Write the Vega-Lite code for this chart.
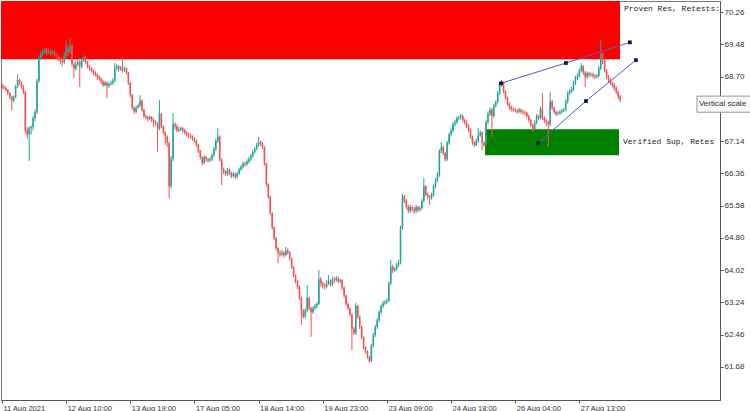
{
"$schema":"https://vega.github.io/schema/vega-lite/v6.json",
"width":719,"height":399,"autosize":"none",
"padding":{"left":1,"top":1,"right":30,"bottom":11},
"background":"white",
"config":{"view":{"stroke":"#777","strokeWidth":1},"font":"Liberation Sans","axis":{"labelOverlap":false,"labelFlush":false,"labelBound":false}},
"datasets":{
"candles":[
{"i":0,"o":68.50,"h":68.55,"l":68.40,"c":68.45},
{"i":1,"o":68.45,"h":68.50,"l":68.38,"c":68.42},
{"i":2,"o":68.42,"h":68.46,"l":68.33,"c":68.38},
{"i":3,"o":68.38,"h":68.40,"l":68.25,"c":68.30},
{"i":4,"o":68.30,"h":68.33,"l":68.15,"c":68.22},
{"i":5,"o":68.22,"h":68.25,"l":67.89,"c":68.12},
{"i":6,"o":68.12,"h":68.24,"l":68.08,"c":68.20},
{"i":7,"o":68.20,"h":68.50,"l":68.18,"c":68.45},
{"i":8,"o":68.45,"h":68.76,"l":68.42,"c":68.62},
{"i":9,"o":68.62,"h":68.66,"l":68.50,"c":68.55},
{"i":10,"o":68.55,"h":68.58,"l":68.40,"c":68.45},
{"i":11,"o":68.45,"h":68.50,"l":68.28,"c":68.33},
{"i":12,"o":68.33,"h":68.36,"l":67.32,"c":67.40},
{"i":13,"o":67.40,"h":67.48,"l":67.20,"c":67.30},
{"i":14,"o":67.30,"h":67.50,"l":66.66,"c":67.45},
{"i":15,"o":67.45,"h":67.52,"l":67.30,"c":67.48},
{"i":16,"o":67.48,"h":67.75,"l":67.40,"c":67.70},
{"i":17,"o":67.70,"h":67.90,"l":67.62,"c":67.85},
{"i":18,"o":67.85,"h":68.65,"l":67.80,"c":68.60},
{"i":19,"o":68.60,"h":69.22,"l":68.55,"c":69.15},
{"i":20,"o":69.15,"h":69.32,"l":69.10,"c":69.25},
{"i":21,"o":69.25,"h":69.36,"l":69.20,"c":69.30},
{"i":22,"o":69.30,"h":69.40,"l":69.25,"c":69.35},
{"i":23,"o":69.35,"h":69.40,"l":69.22,"c":69.28},
{"i":24,"o":69.28,"h":69.38,"l":69.24,"c":69.32},
{"i":25,"o":69.32,"h":69.36,"l":69.20,"c":69.26},
{"i":26,"o":69.26,"h":69.35,"l":69.22,"c":69.30},
{"i":27,"o":69.30,"h":69.34,"l":69.18,"c":69.24},
{"i":28,"o":69.24,"h":69.28,"l":69.14,"c":69.20},
{"i":29,"o":69.20,"h":69.24,"l":69.08,"c":69.15},
{"i":30,"o":69.15,"h":69.18,"l":69.00,"c":69.08},
{"i":31,"o":69.08,"h":69.12,"l":68.95,"c":69.05},
{"i":32,"o":69.05,"h":69.30,"l":69.00,"c":69.20},
{"i":33,"o":69.20,"h":69.58,"l":69.15,"c":69.40},
{"i":34,"o":69.40,"h":69.45,"l":69.20,"c":69.30},
{"i":35,"o":69.30,"h":69.62,"l":69.25,"c":69.45},
{"i":36,"o":69.45,"h":69.48,"l":68.95,"c":69.00},
{"i":37,"o":69.00,"h":69.05,"l":68.67,"c":68.90},
{"i":38,"o":68.90,"h":69.08,"l":68.85,"c":69.00},
{"i":39,"o":69.00,"h":69.12,"l":68.95,"c":69.05},
{"i":40,"o":69.05,"h":69.10,"l":68.45,"c":68.95},
{"i":41,"o":68.95,"h":69.15,"l":68.90,"c":69.10},
{"i":42,"o":69.10,"h":69.22,"l":69.05,"c":69.18},
{"i":43,"o":69.18,"h":69.20,"l":69.00,"c":69.05},
{"i":44,"o":69.05,"h":69.08,"l":68.90,"c":68.95},
{"i":45,"o":68.95,"h":68.98,"l":68.85,"c":68.90},
{"i":46,"o":68.90,"h":68.93,"l":68.80,"c":68.85},
{"i":47,"o":68.85,"h":68.88,"l":68.74,"c":68.80},
{"i":48,"o":68.80,"h":68.83,"l":68.70,"c":68.75},
{"i":49,"o":68.75,"h":68.78,"l":68.62,"c":68.70},
{"i":50,"o":68.70,"h":68.74,"l":68.60,"c":68.65},
{"i":51,"o":68.65,"h":68.68,"l":68.52,"c":68.58},
{"i":52,"o":68.58,"h":68.62,"l":68.45,"c":68.50},
{"i":53,"o":68.50,"h":68.60,"l":68.46,"c":68.55},
{"i":54,"o":68.55,"h":68.58,"l":68.18,"c":68.48},
{"i":55,"o":68.48,"h":68.56,"l":68.42,"c":68.52},
{"i":56,"o":68.52,"h":68.60,"l":68.48,"c":68.55},
{"i":57,"o":68.55,"h":68.66,"l":68.50,"c":68.60},
{"i":58,"o":68.60,"h":69.03,"l":68.56,"c":68.90},
{"i":59,"o":68.90,"h":69.00,"l":68.85,"c":68.95},
{"i":60,"o":68.95,"h":68.98,"l":68.82,"c":68.88},
{"i":61,"o":68.88,"h":68.96,"l":68.84,"c":68.92},
{"i":62,"o":68.92,"h":69.17,"l":68.80,"c":68.86},
{"i":63,"o":68.86,"h":68.95,"l":68.82,"c":68.90},
{"i":64,"o":68.90,"h":68.92,"l":68.75,"c":68.80},
{"i":65,"o":68.80,"h":68.82,"l":68.50,"c":68.55},
{"i":66,"o":68.55,"h":68.58,"l":68.20,"c":68.25},
{"i":67,"o":68.25,"h":68.28,"l":67.90,"c":67.95},
{"i":68,"o":67.95,"h":67.98,"l":67.80,"c":67.85},
{"i":69,"o":67.85,"h":68.00,"l":67.82,"c":67.95},
{"i":70,"o":67.95,"h":68.05,"l":67.92,"c":68.00},
{"i":71,"o":68.00,"h":68.25,"l":67.96,"c":68.12},
{"i":72,"o":68.12,"h":68.15,"l":67.85,"c":67.90},
{"i":73,"o":67.90,"h":67.92,"l":67.70,"c":67.75},
{"i":74,"o":67.75,"h":67.78,"l":67.66,"c":67.72},
{"i":75,"o":67.72,"h":67.75,"l":67.62,"c":67.68},
{"i":76,"o":67.68,"h":67.76,"l":67.64,"c":67.72},
{"i":77,"o":67.72,"h":67.75,"l":67.60,"c":67.65},
{"i":78,"o":67.65,"h":67.68,"l":67.48,"c":67.60},
{"i":79,"o":67.60,"h":67.64,"l":67.52,"c":67.58},
{"i":80,"o":67.58,"h":67.60,"l":66.88,"c":67.45},
{"i":81,"o":67.45,"h":68.13,"l":67.40,"c":67.80},
{"i":82,"o":67.80,"h":67.82,"l":67.45,"c":67.50},
{"i":83,"o":67.50,"h":67.52,"l":67.30,"c":67.35},
{"i":84,"o":67.35,"h":67.38,"l":67.05,"c":67.25},
{"i":85,"o":67.25,"h":67.28,"l":67.00,"c":67.10},
{"i":86,"o":67.10,"h":67.12,"l":65.76,"c":66.05},
{"i":87,"o":66.05,"h":66.78,"l":66.00,"c":66.70},
{"i":88,"o":66.70,"h":67.82,"l":66.65,"c":67.55},
{"i":89,"o":67.55,"h":67.60,"l":67.42,"c":67.50},
{"i":90,"o":67.50,"h":67.55,"l":67.35,"c":67.40},
{"i":91,"o":67.40,"h":67.48,"l":67.36,"c":67.42},
{"i":92,"o":67.42,"h":67.50,"l":67.38,"c":67.45},
{"i":93,"o":67.45,"h":67.48,"l":67.34,"c":67.40},
{"i":94,"o":67.40,"h":67.44,"l":67.30,"c":67.35},
{"i":95,"o":67.35,"h":67.38,"l":67.25,"c":67.30},
{"i":96,"o":67.30,"h":67.34,"l":67.22,"c":67.28},
{"i":97,"o":67.28,"h":67.32,"l":67.20,"c":67.25},
{"i":98,"o":67.25,"h":67.28,"l":67.15,"c":67.20},
{"i":99,"o":67.20,"h":67.24,"l":67.10,"c":67.15},
{"i":100,"o":67.15,"h":67.18,"l":67.00,"c":67.05},
{"i":101,"o":67.05,"h":67.08,"l":66.85,"c":66.90},
{"i":102,"o":66.90,"h":66.93,"l":66.70,"c":66.75},
{"i":103,"o":66.75,"h":66.78,"l":66.55,"c":66.62},
{"i":104,"o":66.62,"h":66.80,"l":66.58,"c":66.75},
{"i":105,"o":66.75,"h":66.78,"l":66.64,"c":66.70},
{"i":106,"o":66.70,"h":66.74,"l":66.62,"c":66.68},
{"i":107,"o":66.68,"h":66.75,"l":66.63,"c":66.70},
{"i":108,"o":66.70,"h":66.85,"l":66.66,"c":66.80},
{"i":109,"o":66.80,"h":67.00,"l":66.76,"c":66.95},
{"i":110,"o":66.95,"h":67.20,"l":66.90,"c":67.15},
{"i":111,"o":67.15,"h":67.46,"l":67.10,"c":67.25},
{"i":112,"o":67.25,"h":67.28,"l":66.65,"c":66.70},
{"i":113,"o":66.70,"h":66.72,"l":66.08,"c":66.45},
{"i":114,"o":66.45,"h":66.50,"l":66.34,"c":66.40},
{"i":115,"o":66.40,"h":66.44,"l":66.30,"c":66.35},
{"i":116,"o":66.35,"h":66.50,"l":66.30,"c":66.45},
{"i":117,"o":66.45,"h":66.48,"l":66.32,"c":66.38},
{"i":118,"o":66.38,"h":66.40,"l":66.25,"c":66.30},
{"i":119,"o":66.30,"h":66.40,"l":66.26,"c":66.35},
{"i":120,"o":66.35,"h":66.38,"l":66.22,"c":66.28},
{"i":121,"o":66.28,"h":66.40,"l":66.24,"c":66.35},
{"i":122,"o":66.35,"h":66.50,"l":66.32,"c":66.45},
{"i":123,"o":66.45,"h":66.56,"l":66.42,"c":66.52},
{"i":124,"o":66.52,"h":66.65,"l":66.48,"c":66.60},
{"i":125,"o":66.60,"h":66.64,"l":66.52,"c":66.58},
{"i":126,"o":66.58,"h":66.70,"l":66.54,"c":66.65},
{"i":127,"o":66.65,"h":66.76,"l":66.60,"c":66.70},
{"i":128,"o":66.70,"h":66.83,"l":66.66,"c":66.78},
{"i":129,"o":66.78,"h":66.92,"l":66.74,"c":66.88},
{"i":130,"o":66.88,"h":67.00,"l":66.84,"c":66.95},
{"i":131,"o":66.95,"h":67.10,"l":66.92,"c":67.05},
{"i":132,"o":67.05,"h":67.24,"l":67.00,"c":67.12},
{"i":133,"o":67.12,"h":67.16,"l":67.02,"c":67.08},
{"i":134,"o":67.08,"h":67.12,"l":66.95,"c":67.00},
{"i":135,"o":67.00,"h":67.02,"l":66.55,"c":66.60},
{"i":136,"o":66.60,"h":66.62,"l":66.05,"c":66.10},
{"i":137,"o":66.10,"h":66.12,"l":65.75,"c":65.80},
{"i":138,"o":65.80,"h":65.82,"l":65.35,"c":65.40},
{"i":139,"o":65.40,"h":65.42,"l":65.00,"c":65.05},
{"i":140,"o":65.05,"h":65.08,"l":64.75,"c":64.80},
{"i":141,"o":64.80,"h":64.82,"l":64.50,"c":64.55},
{"i":142,"o":64.55,"h":64.58,"l":64.19,"c":64.44},
{"i":143,"o":64.44,"h":64.50,"l":64.34,"c":64.40},
{"i":144,"o":64.40,"h":64.52,"l":64.36,"c":64.45},
{"i":145,"o":64.45,"h":64.48,"l":64.32,"c":64.38},
{"i":146,"o":64.38,"h":64.58,"l":64.35,"c":64.50},
{"i":147,"o":64.50,"h":64.55,"l":64.40,"c":64.45},
{"i":148,"o":64.45,"h":64.48,"l":64.25,"c":64.30},
{"i":149,"o":64.30,"h":64.32,"l":64.05,"c":64.10},
{"i":150,"o":64.10,"h":64.12,"l":63.85,"c":63.90},
{"i":151,"o":63.90,"h":63.92,"l":63.70,"c":63.75},
{"i":152,"o":63.75,"h":63.78,"l":63.56,"c":63.62},
{"i":153,"o":63.62,"h":63.65,"l":63.30,"c":63.35},
{"i":154,"o":63.35,"h":63.38,"l":62.70,"c":63.05},
{"i":155,"o":63.05,"h":63.08,"l":62.85,"c":62.90},
{"i":156,"o":62.90,"h":63.10,"l":62.86,"c":63.05},
{"i":157,"o":63.05,"h":63.66,"l":63.00,"c":63.35},
{"i":158,"o":63.35,"h":63.38,"l":63.05,"c":63.10},
{"i":159,"o":63.10,"h":63.14,"l":62.41,"c":63.00},
{"i":160,"o":63.00,"h":63.15,"l":62.96,"c":63.10},
{"i":161,"o":63.10,"h":63.20,"l":63.05,"c":63.15},
{"i":162,"o":63.15,"h":63.25,"l":63.10,"c":63.20},
{"i":163,"o":63.20,"h":64.02,"l":63.18,"c":63.80},
{"i":164,"o":63.80,"h":63.85,"l":63.62,"c":63.70},
{"i":165,"o":63.70,"h":63.75,"l":63.58,"c":63.65},
{"i":166,"o":63.65,"h":63.70,"l":63.55,"c":63.62},
{"i":167,"o":63.62,"h":63.78,"l":63.58,"c":63.70},
{"i":168,"o":63.70,"h":63.90,"l":63.66,"c":63.75},
{"i":169,"o":63.75,"h":63.80,"l":63.62,"c":63.68},
{"i":170,"o":63.68,"h":63.86,"l":63.64,"c":63.80},
{"i":171,"o":63.80,"h":63.85,"l":63.72,"c":63.78},
{"i":172,"o":63.78,"h":63.88,"l":63.74,"c":63.82},
{"i":173,"o":63.82,"h":63.86,"l":63.70,"c":63.75},
{"i":174,"o":63.75,"h":63.82,"l":63.70,"c":63.78},
{"i":175,"o":63.78,"h":63.80,"l":63.55,"c":63.60},
{"i":176,"o":63.60,"h":63.62,"l":63.35,"c":63.40},
{"i":177,"o":63.40,"h":63.42,"l":63.15,"c":63.20},
{"i":178,"o":63.20,"h":63.24,"l":63.05,"c":63.10},
{"i":179,"o":63.10,"h":63.12,"l":62.90,"c":62.95},
{"i":180,"o":62.95,"h":62.98,"l":62.09,"c":62.60},
{"i":181,"o":62.60,"h":62.65,"l":62.45,"c":62.50},
{"i":182,"o":62.50,"h":63.23,"l":62.45,"c":63.15},
{"i":183,"o":63.15,"h":63.18,"l":62.85,"c":62.90},
{"i":184,"o":62.90,"h":62.92,"l":62.60,"c":62.65},
{"i":185,"o":62.65,"h":62.68,"l":62.35,"c":62.40},
{"i":186,"o":62.40,"h":62.42,"l":62.10,"c":62.15},
{"i":187,"o":62.15,"h":62.18,"l":62.00,"c":62.05},
{"i":188,"o":62.05,"h":62.08,"l":61.88,"c":61.92},
{"i":189,"o":61.92,"h":61.95,"l":61.78,"c":61.82},
{"i":190,"o":61.82,"h":62.24,"l":61.80,"c":62.20},
{"i":191,"o":62.20,"h":62.50,"l":62.15,"c":62.45},
{"i":192,"o":62.45,"h":62.70,"l":62.40,"c":62.65},
{"i":193,"o":62.65,"h":62.85,"l":62.60,"c":62.80},
{"i":194,"o":62.80,"h":63.05,"l":62.76,"c":63.00},
{"i":195,"o":63.00,"h":63.20,"l":62.95,"c":63.15},
{"i":196,"o":63.15,"h":63.28,"l":63.10,"c":63.22},
{"i":197,"o":63.22,"h":63.30,"l":63.18,"c":63.25},
{"i":198,"o":63.25,"h":63.34,"l":63.20,"c":63.28},
{"i":199,"o":63.28,"h":63.75,"l":63.25,"c":63.70},
{"i":200,"o":63.70,"h":64.27,"l":63.66,"c":64.10},
{"i":201,"o":64.10,"h":64.15,"l":63.95,"c":64.02},
{"i":202,"o":64.02,"h":64.10,"l":63.98,"c":64.05},
{"i":203,"o":64.05,"h":64.20,"l":64.00,"c":64.15},
{"i":204,"o":64.15,"h":64.26,"l":64.10,"c":64.20},
{"i":205,"o":64.20,"h":65.10,"l":64.16,"c":65.06},
{"i":206,"o":65.06,"h":65.87,"l":65.00,"c":65.80},
{"i":207,"o":65.80,"h":65.84,"l":65.64,"c":65.70},
{"i":208,"o":65.70,"h":65.74,"l":65.50,"c":65.55},
{"i":209,"o":65.55,"h":65.60,"l":65.40,"c":65.45},
{"i":210,"o":65.45,"h":65.60,"l":65.40,"c":65.55},
{"i":211,"o":65.55,"h":65.58,"l":65.44,"c":65.50},
{"i":212,"o":65.50,"h":65.55,"l":65.38,"c":65.45},
{"i":213,"o":65.45,"h":65.60,"l":65.40,"c":65.55},
{"i":214,"o":65.55,"h":65.58,"l":65.42,"c":65.48},
{"i":215,"o":65.48,"h":65.58,"l":65.44,"c":65.52},
{"i":216,"o":65.52,"h":65.75,"l":65.48,"c":65.70},
{"i":217,"o":65.70,"h":66.25,"l":65.66,"c":66.05},
{"i":218,"o":66.05,"h":66.08,"l":65.80,"c":65.85},
{"i":219,"o":65.85,"h":65.90,"l":65.74,"c":65.80},
{"i":220,"o":65.80,"h":65.84,"l":65.60,"c":65.78},
{"i":221,"o":65.78,"h":65.90,"l":65.72,"c":65.85},
{"i":222,"o":65.85,"h":66.10,"l":65.80,"c":66.05},
{"i":223,"o":66.05,"h":66.25,"l":66.00,"c":66.20},
{"i":224,"o":66.20,"h":66.38,"l":66.15,"c":66.32},
{"i":225,"o":66.32,"h":66.95,"l":66.28,"c":66.90},
{"i":226,"o":66.90,"h":67.12,"l":66.85,"c":67.00},
{"i":227,"o":67.00,"h":67.03,"l":66.80,"c":66.85},
{"i":228,"o":66.85,"h":66.88,"l":66.65,"c":66.70},
{"i":229,"o":66.70,"h":67.15,"l":66.66,"c":67.10},
{"i":230,"o":67.10,"h":67.35,"l":67.05,"c":67.30},
{"i":231,"o":67.30,"h":67.45,"l":67.25,"c":67.40},
{"i":232,"o":67.40,"h":67.60,"l":67.35,"c":67.55},
{"i":233,"o":67.55,"h":67.66,"l":67.50,"c":67.60},
{"i":234,"o":67.60,"h":67.74,"l":67.55,"c":67.70},
{"i":235,"o":67.70,"h":67.76,"l":67.64,"c":67.72},
{"i":236,"o":67.72,"h":67.80,"l":67.66,"c":67.74},
{"i":237,"o":67.74,"h":67.78,"l":67.60,"c":67.65},
{"i":238,"o":67.65,"h":67.68,"l":67.54,"c":67.60},
{"i":239,"o":67.60,"h":67.64,"l":67.45,"c":67.50},
{"i":240,"o":67.50,"h":67.55,"l":67.36,"c":67.42},
{"i":241,"o":67.42,"h":67.45,"l":67.20,"c":67.25},
{"i":242,"o":67.25,"h":67.28,"l":67.05,"c":67.10},
{"i":243,"o":67.10,"h":67.14,"l":67.00,"c":67.05},
{"i":244,"o":67.05,"h":67.20,"l":67.02,"c":67.15},
{"i":245,"o":67.15,"h":67.46,"l":67.10,"c":67.28},
{"i":246,"o":67.28,"h":67.40,"l":67.24,"c":67.35},
{"i":247,"o":67.35,"h":67.38,"l":66.92,"c":67.10},
{"i":248,"o":67.10,"h":67.14,"l":67.00,"c":67.05},
{"i":249,"o":67.05,"h":67.65,"l":67.02,"c":67.60},
{"i":250,"o":67.60,"h":67.86,"l":67.55,"c":67.80},
{"i":251,"o":67.80,"h":67.95,"l":67.75,"c":67.90},
{"i":252,"o":67.90,"h":67.95,"l":67.24,"c":67.75},
{"i":253,"o":67.75,"h":68.05,"l":67.70,"c":68.00},
{"i":254,"o":68.00,"h":68.13,"l":67.95,"c":68.08},
{"i":255,"o":68.08,"h":68.36,"l":68.05,"c":68.30},
{"i":256,"o":68.30,"h":68.55,"l":68.25,"c":68.50},
{"i":257,"o":68.50,"h":68.62,"l":68.45,"c":68.55},
{"i":258,"o":68.55,"h":68.58,"l":68.30,"c":68.35},
{"i":259,"o":68.35,"h":68.38,"l":68.15,"c":68.20},
{"i":260,"o":68.20,"h":68.22,"l":68.00,"c":68.05},
{"i":261,"o":68.05,"h":68.08,"l":67.90,"c":67.96},
{"i":262,"o":67.96,"h":68.00,"l":67.86,"c":67.92},
{"i":263,"o":67.92,"h":67.96,"l":67.85,"c":67.90},
{"i":264,"o":67.90,"h":67.94,"l":67.83,"c":67.88},
{"i":265,"o":67.88,"h":67.92,"l":67.80,"c":67.86},
{"i":266,"o":67.86,"h":67.95,"l":67.82,"c":67.90},
{"i":267,"o":67.90,"h":67.93,"l":67.80,"c":67.85},
{"i":268,"o":67.85,"h":67.90,"l":67.78,"c":67.84},
{"i":269,"o":67.84,"h":67.88,"l":67.76,"c":67.82},
{"i":270,"o":67.82,"h":67.85,"l":67.70,"c":67.75},
{"i":271,"o":67.75,"h":67.78,"l":67.60,"c":67.65},
{"i":272,"o":67.65,"h":67.68,"l":67.48,"c":67.53},
{"i":273,"o":67.53,"h":67.56,"l":67.36,"c":67.43},
{"i":274,"o":67.43,"h":67.65,"l":67.40,"c":67.60},
{"i":275,"o":67.60,"h":67.80,"l":67.55,"c":67.75},
{"i":276,"o":67.75,"h":67.78,"l":67.64,"c":67.70},
{"i":277,"o":67.70,"h":67.98,"l":67.66,"c":67.92},
{"i":278,"o":67.92,"h":68.30,"l":67.65,"c":67.70},
{"i":279,"o":67.70,"h":67.74,"l":67.58,"c":67.65},
{"i":280,"o":67.65,"h":67.68,"l":67.50,"c":67.60},
{"i":281,"o":67.60,"h":67.64,"l":67.00,"c":67.55},
{"i":282,"o":67.55,"h":68.33,"l":67.50,"c":68.10},
{"i":283,"o":68.10,"h":68.14,"l":67.90,"c":67.95},
{"i":284,"o":67.95,"h":67.98,"l":67.80,"c":67.85},
{"i":285,"o":67.85,"h":67.88,"l":67.75,"c":67.80},
{"i":286,"o":67.80,"h":67.86,"l":67.76,"c":67.82},
{"i":287,"o":67.82,"h":67.90,"l":67.78,"c":67.85},
{"i":288,"o":67.85,"h":67.92,"l":67.80,"c":67.88},
{"i":289,"o":67.88,"h":67.95,"l":67.84,"c":67.90},
{"i":290,"o":67.90,"h":68.15,"l":67.86,"c":68.10},
{"i":291,"o":68.10,"h":68.35,"l":68.05,"c":68.30},
{"i":292,"o":68.30,"h":68.40,"l":68.25,"c":68.35},
{"i":293,"o":68.35,"h":68.46,"l":68.30,"c":68.40},
{"i":294,"o":68.40,"h":68.60,"l":68.35,"c":68.55},
{"i":295,"o":68.55,"h":68.72,"l":68.50,"c":68.68},
{"i":296,"o":68.68,"h":68.78,"l":68.62,"c":68.72},
{"i":297,"o":68.72,"h":68.90,"l":68.68,"c":68.85},
{"i":298,"o":68.85,"h":69.03,"l":68.80,"c":68.95},
{"i":299,"o":68.95,"h":68.98,"l":68.74,"c":68.80},
{"i":300,"o":68.80,"h":68.84,"l":68.45,"c":68.70},
{"i":301,"o":68.70,"h":68.82,"l":68.64,"c":68.78},
{"i":302,"o":68.78,"h":68.82,"l":68.68,"c":68.74},
{"i":303,"o":68.74,"h":68.80,"l":68.70,"c":68.76},
{"i":304,"o":68.76,"h":68.80,"l":68.66,"c":68.72},
{"i":305,"o":68.72,"h":68.76,"l":68.64,"c":68.70},
{"i":306,"o":68.70,"h":68.76,"l":68.66,"c":68.72},
{"i":307,"o":68.72,"h":68.96,"l":68.68,"c":68.90},
{"i":308,"o":68.90,"h":69.58,"l":68.86,"c":69.25},
{"i":309,"o":69.25,"h":69.30,"l":69.00,"c":69.10},
{"i":310,"o":69.10,"h":69.12,"l":68.80,"c":68.85},
{"i":311,"o":68.85,"h":68.88,"l":68.64,"c":68.70},
{"i":312,"o":68.70,"h":68.74,"l":68.56,"c":68.62},
{"i":313,"o":68.62,"h":68.66,"l":68.50,"c":68.55},
{"i":314,"o":68.55,"h":68.58,"l":68.44,"c":68.50},
{"i":315,"o":68.50,"h":68.54,"l":68.36,"c":68.42},
{"i":316,"o":68.42,"h":68.46,"l":68.28,"c":68.33},
{"i":317,"o":68.33,"h":68.36,"l":68.16,"c":68.22},
{"i":318,"o":68.22,"h":68.26,"l":68.08,"c":68.13}
],
"zones":[
{"kind":"res","from":-0.6,"to":317.9,"lo":69.12,"hi":70.6,"label":"Proven Res, Retests:","level":70.33},
{"kind":"sup","from":248.5,"to":317.4,"lo":66.80,"hi":67.43,"label":"Verified Sup, Retes","level":67.12}
],
"trend":[
{"line":"upper","i":256.7,"p":68.54},
{"line":"upper","i":290.1,"p":69.03},
{"line":"upper","i":323.0,"p":69.53},
{"line":"lower","i":275.7,"p":67.09},
{"line":"lower","i":300.4,"p":68.11},
{"line":"lower","i":326.1,"p":69.10}
],
"notes":[
{"text":"Vertical scale","from":357.5,"to":420,"lo":67.84,"hi":68.23,"mid":68.035}
]
},
"layer":[
{"data":{"name":"zones"},
 "mark":{"type":"rect","clip":true},
 "encoding":{
  "x":{"field":"from","type":"quantitative","scale":{"domain":[-0.514,369.35],"nice":false,"zero":false},
   "axis":{"orient":"bottom","values":[0,33,66,99,132,165,198,231,264,297],"tickCount":30,
    "labelExpr":"['11 Aug 2021','12 Aug 10:00','13 Aug 19:00','17 Aug 05:00','18 Aug 14:00','19 Aug 23:00','23 Aug 09:00','24 Aug 18:00','26 Aug 04:00','27 Aug 13:00'][round(datum.value/33)]",
    "title":null,"grid":false,"labelAlign":"left","labelBaseline":"top","labelPadding":1,"labelOffset":1,"tickSize":3,
    "labelFontSize":7.5,"labelColor":"#333","tickColor":"#555","domainColor":"#555"}},
  "x2":{"field":"to"},
  "y":{"field":"lo","type":"quantitative","scale":{"domain":[60.88,70.53],"nice":false,"zero":false},
   "axis":{"orient":"right","values":[61.68,62.46,63.24,64.02,64.8,65.58,66.36,67.14,68.7,69.48,70.26],"tickCount":30,
    "format":".2f","title":null,"grid":false,"tickSize":3,"labelPadding":1,"labelFontSize":8,"labelColor":"#333",
    "tickColor":"#555","domainColor":"#555"}},
  "y2":{"field":"hi"},
  "color":{"field":"kind","type":"nominal","scale":{"domain":["res","sup"],"range":["#ff0000","#008000"]},"legend":null}
 }},
{"data":{"name":"candles"},
 "mark":{"type":"rule","strokeWidth":1},
 "encoding":{
  "x":{"field":"i","type":"quantitative"},
  "y":{"field":"l","type":"quantitative"},
  "y2":{"field":"h"},
  "color":{"condition":{"test":"datum.c >= datum.o","value":"#26a69a"},"value":"#ef5350"}
 }},
{"data":{"name":"candles"},
 "mark":{"type":"rule","strokeWidth":1.6},
 "encoding":{
  "x":{"field":"i","type":"quantitative"},
  "y":{"field":"o","type":"quantitative"},
  "y2":{"field":"c"},
  "color":{"condition":{"test":"datum.c >= datum.o","value":"#26a69a"},"value":"#ef5350"}
 }},
{"data":{"name":"trend"},
 "mark":{"type":"line","color":"#4a5cd0","strokeWidth":1},
 "encoding":{
  "x":{"field":"i","type":"quantitative"},
  "y":{"field":"p","type":"quantitative"},
  "detail":{"field":"line"}
 }},
{"data":{"name":"trend"},
 "mark":{"type":"square","size":14,"color":"#0b1650","opacity":1,"filled":true},
 "encoding":{
  "x":{"field":"i","type":"quantitative"},
  "y":{"field":"p","type":"quantitative"}
 }},
{"data":{"name":"zones"},
 "mark":{"type":"text","font":"Liberation Mono","fontSize":8,"align":"left","baseline":"middle","dx":4,"clip":true,"color":"#222"},
 "encoding":{
  "x":{"field":"to","type":"quantitative"},
  "y":{"field":"level","type":"quantitative"},
  "text":{"field":"label"}
 }},
{"data":{"name":"notes"},
 "mark":{"type":"rect","fill":"#f8f8f8","stroke":"#999","strokeWidth":1,"clip":false},
 "encoding":{
  "x":{"field":"from","type":"quantitative"},
  "x2":{"field":"to"},
  "y":{"field":"lo","type":"quantitative"},
  "y2":{"field":"hi"}
 }},
{"data":{"name":"notes"},
 "mark":{"type":"text","align":"left","baseline":"middle","fontSize":8,"color":"#333","dx":2},
 "encoding":{
  "x":{"field":"from","type":"quantitative"},
  "y":{"field":"mid","type":"quantitative"},
  "text":{"field":"text"}
 }}
]
}
